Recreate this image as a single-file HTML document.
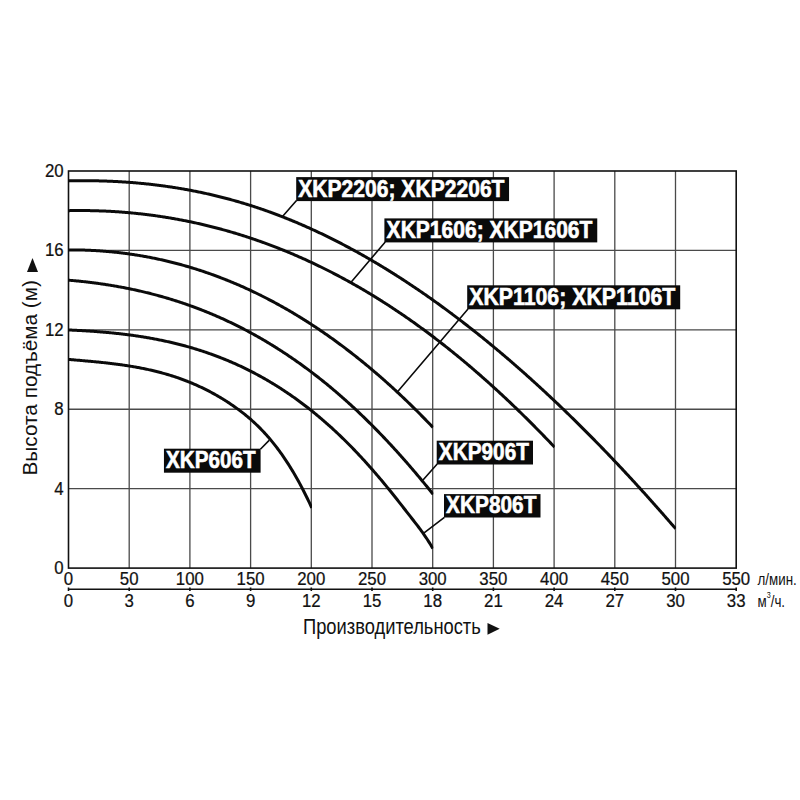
<!DOCTYPE html><html><head><meta charset="utf-8"><style>html,body{margin:0;padding:0;background:#fff}svg{display:block}</style></head><body>
<svg width="800" height="800" viewBox="0 0 800 800" style="font-family:'Liberation Sans', sans-serif">
<rect width="800" height="800" fill="#fff"/>
<path d="M129.20,171.00V568.10 M189.90,171.00V568.10 M250.60,171.00V568.10 M311.30,171.00V568.10 M372.00,171.00V568.10 M432.70,171.00V568.10 M493.40,171.00V568.10 M554.10,171.00V568.10 M614.80,171.00V568.10 M675.50,171.00V568.10 M68.50,488.68H736.20 M68.50,409.26H736.20 M68.50,329.84H736.20 M68.50,250.42H736.20" stroke="#4a4a4a" stroke-width="1.3" fill="none"/>
<rect x="68.5" y="171.0" width="667.70" height="397.10" stroke="#111" stroke-width="1.6" fill="none"/>
<path d="M68.5,589.3H736.20" stroke="#111" stroke-width="1.5"/>
<path d="M68.50,587.50V591.10 M129.20,587.50V591.10 M189.90,587.50V591.10 M250.60,587.50V591.10 M311.30,587.50V591.10 M372.00,587.50V591.10 M432.70,587.50V591.10 M493.40,587.50V591.10 M554.10,587.50V591.10 M614.80,587.50V591.10 M675.50,587.50V591.10 M736.20,587.50V591.10" stroke="#111" stroke-width="1.6"/>
<defs><clipPath id="cA"><rect x="60" y="150" width="616.10" height="420"/></clipPath><clipPath id="cB"><rect x="60" y="150" width="494.70" height="420"/></clipPath><clipPath id="cC"><rect x="60" y="150" width="373.30" height="420"/></clipPath><clipPath id="cD"><rect x="60" y="150" width="373.30" height="420"/></clipPath><clipPath id="cE"><rect x="60" y="150" width="373.30" height="420"/></clipPath><clipPath id="cF"><rect x="60" y="150" width="251.90" height="420"/></clipPath></defs>
<path d="M68.50,180.84 L69.50,180.82 L70.50,180.80 L71.50,180.78 L72.50,180.76 L73.50,180.75 L74.50,180.73 L75.50,180.72 L76.50,180.71 L77.50,180.70 L78.50,180.69 L79.50,180.69 L80.50,180.68 L81.50,180.68 L82.50,180.68 L83.50,180.68 L84.50,180.68 L85.50,180.68 L86.50,180.68 L87.50,180.69 L88.50,180.70 L89.50,180.71 L90.50,180.72 L91.50,180.73 L92.50,180.74 L93.50,180.76 L94.50,180.77 L95.50,180.79 L96.50,180.81 L97.50,180.83 L98.50,180.85 L99.50,180.88 L100.50,180.90 L101.50,180.93 L102.50,180.96 L103.50,180.99 L104.50,181.02 L105.50,181.06 L106.50,181.09 L107.50,181.13 L108.50,181.17 L109.50,181.21 L110.50,181.25 L111.50,181.30 L112.50,181.34 L113.50,181.39 L114.50,181.44 L115.50,181.49 L116.50,181.54 L117.50,181.59 L118.50,181.65 L119.50,181.71 L120.50,181.77 L121.50,181.83 L122.50,181.89 L123.50,181.95 L124.50,182.02 L125.50,182.08 L126.50,182.15 L127.50,182.22 L128.50,182.30 L129.50,182.37 L130.50,182.45 L131.50,182.52 L132.50,182.60 L133.50,182.68 L134.50,182.77 L135.50,182.85 L136.50,182.94 L137.50,183.03 L138.50,183.12 L139.50,183.21 L140.50,183.30 L141.50,183.40 L142.50,183.49 L143.50,183.59 L144.50,183.69 L145.50,183.79 L146.50,183.90 L147.50,184.00 L148.50,184.11 L149.50,184.22 L150.50,184.33 L151.50,184.45 L152.50,184.56 L153.50,184.68 L154.50,184.80 L155.50,184.92 L156.50,185.04 L157.50,185.16 L158.50,185.29 L159.50,185.42 L160.50,185.55 L161.50,185.68 L162.50,185.81 L163.50,185.95 L164.50,186.08 L165.50,186.22 L166.50,186.37 L167.50,186.51 L168.50,186.65 L169.50,186.80 L170.50,186.95 L171.50,187.10 L172.50,187.25 L173.50,187.41 L174.50,187.56 L175.50,187.72 L176.50,187.88 L177.50,188.04 L178.50,188.21 L179.50,188.37 L180.50,188.54 L181.50,188.71 L182.50,188.88 L183.50,189.06 L184.50,189.23 L185.50,189.41 L186.50,189.59 L187.50,189.77 L188.50,189.96 L189.50,190.14 L190.50,190.33 L191.50,190.52 L192.50,190.71 L193.50,190.91 L194.50,191.10 L195.50,191.30 L196.50,191.50 L197.50,191.70 L198.50,191.91 L199.50,192.11 L200.50,192.32 L201.50,192.53 L202.50,192.75 L203.50,192.96 L204.50,193.18 L205.50,193.40 L206.50,193.62 L207.50,193.84 L208.50,194.06 L209.50,194.29 L210.50,194.52 L211.50,194.75 L212.50,194.98 L213.50,195.22 L214.50,195.46 L215.50,195.70 L216.50,195.94 L217.50,196.18 L218.50,196.43 L219.50,196.68 L220.50,196.93 L221.50,197.18 L222.50,197.44 L223.50,197.69 L224.50,197.95 L225.50,198.21 L226.50,198.48 L227.50,198.74 L228.50,199.01 L229.50,199.28 L230.50,199.55 L231.50,199.83 L232.50,200.10 L233.50,200.38 L234.50,200.66 L235.50,200.94 L236.50,201.23 L237.50,201.52 L238.50,201.81 L239.50,202.10 L240.50,202.39 L241.50,202.69 L242.50,202.99 L243.50,203.29 L244.50,203.59 L245.50,203.90 L246.50,204.21 L247.50,204.52 L248.50,204.83 L249.50,205.14 L250.50,205.46 L251.50,205.78 L252.50,206.10 L253.50,206.43 L254.50,206.75 L255.50,207.08 L256.50,207.41 L257.50,207.74 L258.50,208.08 L259.50,208.42 L260.50,208.76 L261.50,209.10 L262.50,209.44 L263.50,209.79 L264.50,210.14 L265.50,210.49 L266.50,210.84 L267.50,211.20 L268.50,211.56 L269.50,211.92 L270.50,212.28 L271.50,212.64 L272.50,213.01 L273.50,213.38 L274.50,213.75 L275.50,214.13 L276.50,214.50 L277.50,214.88 L278.50,215.26 L279.50,215.64 L280.50,216.03 L281.50,216.42 L282.50,216.81 L283.50,217.20 L284.50,217.59 L285.50,217.99 L286.50,218.39 L287.50,218.79 L288.50,219.19 L289.50,219.60 L290.50,220.00 L291.50,220.41 L292.50,220.83 L293.50,221.24 L294.50,221.66 L295.50,222.07 L296.50,222.49 L297.50,222.92 L298.50,223.34 L299.50,223.77 L300.50,224.20 L301.50,224.63 L302.50,225.07 L303.50,225.50 L304.50,225.94 L305.50,226.38 L306.50,226.82 L307.50,227.27 L308.50,227.72 L309.50,228.17 L310.50,228.62 L311.50,229.07 L312.50,229.53 L313.50,229.99 L314.50,230.45 L315.50,230.91 L316.50,231.38 L317.50,231.84 L318.50,232.31 L319.50,232.78 L320.50,233.26 L321.50,233.73 L322.50,234.21 L323.50,234.69 L324.50,235.17 L325.50,235.66 L326.50,236.14 L327.50,236.63 L328.50,237.12 L329.50,237.62 L330.50,238.11 L331.50,238.61 L332.50,239.11 L333.50,239.61 L334.50,240.12 L335.50,240.62 L336.50,241.13 L337.50,241.64 L338.50,242.15 L339.50,242.67 L340.50,243.19 L341.50,243.70 L342.50,244.23 L343.50,244.75 L344.50,245.28 L345.50,245.80 L346.50,246.33 L347.50,246.86 L348.50,247.40 L349.50,247.94 L350.50,248.47 L351.50,249.01 L352.50,249.56 L353.50,250.10 L354.50,250.65 L355.50,251.20 L356.50,251.75 L357.50,252.30 L358.50,252.86 L359.50,253.42 L360.50,253.98 L361.50,254.54 L362.50,255.10 L363.50,255.67 L364.50,256.23 L365.50,256.81 L366.50,257.38 L367.50,257.95 L368.50,258.53 L369.50,259.11 L370.50,259.69 L371.50,260.27 L372.50,260.86 L373.50,261.44 L374.50,262.03 L375.50,262.62 L376.50,263.22 L377.50,263.81 L378.50,264.41 L379.50,265.01 L380.50,265.61 L381.50,266.22 L382.50,266.82 L383.50,267.43 L384.50,268.04 L385.50,268.65 L386.50,269.27 L387.50,269.88 L388.50,270.50 L389.50,271.12 L390.50,271.74 L391.50,272.37 L392.50,273.00 L393.50,273.62 L394.50,274.26 L395.50,274.89 L396.50,275.52 L397.50,276.16 L398.50,276.80 L399.50,277.44 L400.50,278.08 L401.50,278.73 L402.50,279.38 L403.50,280.03 L404.50,280.68 L405.50,281.33 L406.50,281.99 L407.50,282.64 L408.50,283.30 L409.50,283.97 L410.50,284.63 L411.50,285.29 L412.50,285.96 L413.50,286.63 L414.50,287.30 L415.50,287.98 L416.50,288.65 L417.50,289.33 L418.50,290.01 L419.50,290.69 L420.50,291.38 L421.50,292.06 L422.50,292.75 L423.50,293.44 L424.50,294.13 L425.50,294.83 L426.50,295.52 L427.50,296.22 L428.50,296.92 L429.50,297.63 L430.50,298.33 L431.50,299.04 L432.50,299.74 L433.50,300.45 L434.50,301.17 L435.50,301.88 L436.50,302.60 L437.50,303.32 L438.50,304.04 L439.50,304.76 L440.50,305.48 L441.50,306.21 L442.50,306.94 L443.50,307.67 L444.50,308.40 L445.50,309.13 L446.50,309.87 L447.50,310.61 L448.50,311.35 L449.50,312.09 L450.50,312.84 L451.50,313.58 L452.50,314.33 L453.50,315.08 L454.50,315.83 L455.50,316.59 L456.50,317.34 L457.50,318.10 L458.50,318.86 L459.50,319.62 L460.50,320.39 L461.50,321.15 L462.50,321.92 L463.50,322.69 L464.50,323.46 L465.50,324.24 L466.50,325.01 L467.50,325.79 L468.50,326.57 L469.50,327.35 L470.50,328.14 L471.50,328.92 L472.50,329.71 L473.50,330.50 L474.50,331.29 L475.50,332.09 L476.50,332.88 L477.50,333.68 L478.50,334.48 L479.50,335.28 L480.50,336.08 L481.50,336.89 L482.50,337.70 L483.50,338.50 L484.50,339.32 L485.50,340.13 L486.50,340.94 L487.50,341.76 L488.50,342.58 L489.50,343.40 L490.50,344.22 L491.50,345.05 L492.50,345.88 L493.50,346.70 L494.50,347.53 L495.50,348.37 L496.50,349.20 L497.50,350.04 L498.50,350.88 L499.50,351.72 L500.50,352.56 L501.50,353.40 L502.50,354.25 L503.50,355.10 L504.50,355.95 L505.50,356.80 L506.50,357.65 L507.50,358.51 L508.50,359.37 L509.50,360.23 L510.50,361.09 L511.50,361.95 L512.50,362.82 L513.50,363.68 L514.50,364.55 L515.50,365.42 L516.50,366.30 L517.50,367.17 L518.50,368.05 L519.50,368.93 L520.50,369.81 L521.50,370.69 L522.50,371.57 L523.50,372.46 L524.50,373.35 L525.50,374.24 L526.50,375.13 L527.50,376.02 L528.50,376.92 L529.50,377.82 L530.50,378.72 L531.50,379.62 L532.50,380.52 L533.50,381.43 L534.50,382.33 L535.50,383.24 L536.50,384.15 L537.50,385.06 L538.50,385.98 L539.50,386.90 L540.50,387.81 L541.50,388.73 L542.50,389.66 L543.50,390.58 L544.50,391.51 L545.50,392.43 L546.50,393.36 L547.50,394.30 L548.50,395.23 L549.50,396.16 L550.50,397.10 L551.50,398.04 L552.50,398.98 L553.50,399.92 L554.50,400.87 L555.50,401.81 L556.50,402.76 L557.50,403.71 L558.50,404.67 L559.50,405.62 L560.50,406.57 L561.50,407.53 L562.50,408.49 L563.50,409.45 L564.50,410.42 L565.50,411.38 L566.50,412.35 L567.50,413.32 L568.50,414.29 L569.50,415.26 L570.50,416.23 L571.50,417.21 L572.50,418.19 L573.50,419.17 L574.50,420.15 L575.50,421.13 L576.50,422.12 L577.50,423.10 L578.50,424.09 L579.50,425.08 L580.50,426.08 L581.50,427.07 L582.50,428.07 L583.50,429.07 L584.50,430.07 L585.50,431.07 L586.50,432.07 L587.50,433.08 L588.50,434.08 L589.50,435.09 L590.50,436.10 L591.50,437.12 L592.50,438.13 L593.50,439.15 L594.50,440.16 L595.50,441.18 L596.50,442.21 L597.50,443.23 L598.50,444.26 L599.50,445.28 L600.50,446.31 L601.50,447.34 L602.50,448.38 L603.50,449.41 L604.50,450.45 L605.50,451.48 L606.50,452.52 L607.50,453.57 L608.50,454.61 L609.50,455.65 L610.50,456.70 L611.50,457.75 L612.50,458.80 L613.50,459.85 L614.50,460.91 L615.50,461.96 L616.50,463.02 L617.50,464.08 L618.50,465.14 L619.50,466.20 L620.50,467.27 L621.50,468.34 L622.50,469.40 L623.50,470.47 L624.50,471.55 L625.50,472.62 L626.50,473.70 L627.50,474.77 L628.50,475.85 L629.50,476.93 L630.50,478.02 L631.50,479.10 L632.50,480.19 L633.50,481.27 L634.50,482.36 L635.50,483.46 L636.50,484.55 L637.50,485.64 L638.50,486.74 L639.50,487.84 L640.50,488.94 L641.50,490.04 L642.50,491.15 L643.50,492.25 L644.50,493.36 L645.50,494.47 L646.50,495.58 L647.50,496.69 L648.50,497.81 L649.50,498.92 L650.50,500.04 L651.50,501.16 L652.50,502.28 L653.50,503.40 L654.50,504.53 L655.50,505.65 L656.50,506.78 L657.50,507.91 L658.50,509.04 L659.50,510.18 L660.50,511.31 L661.50,512.45 L662.50,513.59 L663.50,514.73 L664.50,515.87 L665.50,517.02 L666.50,518.16 L667.50,519.31 L668.50,520.46 L669.50,521.61 L670.50,522.76 L671.50,523.92 L672.50,525.07 L673.50,526.23 L674.50,527.39 L675.50,528.55 L675.60,528.67" stroke="#0a0a0a" stroke-width="3.0" fill="none" stroke-linecap="butt" clip-path="url(#cA)"/>
<path d="M68.50,210.65 L69.50,210.64 L70.50,210.62 L71.50,210.60 L72.50,210.59 L73.50,210.57 L74.50,210.56 L75.50,210.56 L76.50,210.55 L77.50,210.54 L78.50,210.54 L79.50,210.54 L80.50,210.54 L81.50,210.54 L82.50,210.54 L83.50,210.55 L84.50,210.55 L85.50,210.56 L86.50,210.57 L87.50,210.59 L88.50,210.60 L89.50,210.62 L90.50,210.63 L91.50,210.65 L92.50,210.68 L93.50,210.70 L94.50,210.72 L95.50,210.75 L96.50,210.78 L97.50,210.81 L98.50,210.84 L99.50,210.88 L100.50,210.91 L101.50,210.95 L102.50,210.99 L103.50,211.03 L104.50,211.07 L105.50,211.12 L106.50,211.16 L107.50,211.21 L108.50,211.26 L109.50,211.32 L110.50,211.37 L111.50,211.43 L112.50,211.48 L113.50,211.54 L114.50,211.60 L115.50,211.67 L116.50,211.73 L117.50,211.80 L118.50,211.87 L119.50,211.94 L120.50,212.01 L121.50,212.09 L122.50,212.16 L123.50,212.24 L124.50,212.32 L125.50,212.40 L126.50,212.49 L127.50,212.57 L128.50,212.66 L129.50,212.75 L130.50,212.84 L131.50,212.93 L132.50,213.03 L133.50,213.13 L134.50,213.23 L135.50,213.33 L136.50,213.43 L137.50,213.53 L138.50,213.64 L139.50,213.75 L140.50,213.86 L141.50,213.97 L142.50,214.08 L143.50,214.20 L144.50,214.32 L145.50,214.44 L146.50,214.56 L147.50,214.68 L148.50,214.81 L149.50,214.94 L150.50,215.06 L151.50,215.20 L152.50,215.33 L153.50,215.46 L154.50,215.60 L155.50,215.74 L156.50,215.88 L157.50,216.02 L158.50,216.17 L159.50,216.32 L160.50,216.46 L161.50,216.62 L162.50,216.77 L163.50,216.92 L164.50,217.08 L165.50,217.24 L166.50,217.40 L167.50,217.56 L168.50,217.72 L169.50,217.89 L170.50,218.06 L171.50,218.23 L172.50,218.40 L173.50,218.57 L174.50,218.75 L175.50,218.93 L176.50,219.11 L177.50,219.29 L178.50,219.48 L179.50,219.66 L180.50,219.85 L181.50,220.04 L182.50,220.23 L183.50,220.43 L184.50,220.62 L185.50,220.82 L186.50,221.02 L187.50,221.22 L188.50,221.42 L189.50,221.63 L190.50,221.84 L191.50,222.05 L192.50,222.26 L193.50,222.47 L194.50,222.69 L195.50,222.91 L196.50,223.13 L197.50,223.35 L198.50,223.57 L199.50,223.80 L200.50,224.03 L201.50,224.26 L202.50,224.49 L203.50,224.73 L204.50,224.96 L205.50,225.20 L206.50,225.44 L207.50,225.68 L208.50,225.93 L209.50,226.17 L210.50,226.42 L211.50,226.67 L212.50,226.93 L213.50,227.18 L214.50,227.44 L215.50,227.70 L216.50,227.96 L217.50,228.22 L218.50,228.49 L219.50,228.75 L220.50,229.02 L221.50,229.29 L222.50,229.57 L223.50,229.84 L224.50,230.12 L225.50,230.40 L226.50,230.68 L227.50,230.96 L228.50,231.25 L229.50,231.54 L230.50,231.83 L231.50,232.12 L232.50,232.41 L233.50,232.71 L234.50,233.01 L235.50,233.31 L236.50,233.61 L237.50,233.92 L238.50,234.22 L239.50,234.53 L240.50,234.84 L241.50,235.16 L242.50,235.47 L243.50,235.79 L244.50,236.11 L245.50,236.43 L246.50,236.75 L247.50,237.08 L248.50,237.41 L249.50,237.74 L250.50,238.07 L251.50,238.40 L252.50,238.74 L253.50,239.08 L254.50,239.42 L255.50,239.76 L256.50,240.11 L257.50,240.46 L258.50,240.81 L259.50,241.16 L260.50,241.51 L261.50,241.87 L262.50,242.23 L263.50,242.59 L264.50,242.95 L265.50,243.31 L266.50,243.68 L267.50,244.05 L268.50,244.42 L269.50,244.79 L270.50,245.17 L271.50,245.55 L272.50,245.93 L273.50,246.31 L274.50,246.69 L275.50,247.08 L276.50,247.47 L277.50,247.86 L278.50,248.25 L279.50,248.65 L280.50,249.04 L281.50,249.44 L282.50,249.84 L283.50,250.25 L284.50,250.65 L285.50,251.06 L286.50,251.47 L287.50,251.89 L288.50,252.30 L289.50,252.72 L290.50,253.14 L291.50,253.56 L292.50,253.98 L293.50,254.41 L294.50,254.84 L295.50,255.27 L296.50,255.70 L297.50,256.14 L298.50,256.57 L299.50,257.01 L300.50,257.46 L301.50,257.90 L302.50,258.35 L303.50,258.79 L304.50,259.24 L305.50,259.70 L306.50,260.15 L307.50,260.61 L308.50,261.07 L309.50,261.53 L310.50,262.00 L311.50,262.46 L312.50,262.93 L313.50,263.40 L314.50,263.88 L315.50,264.35 L316.50,264.83 L317.50,265.31 L318.50,265.79 L319.50,266.28 L320.50,266.76 L321.50,267.25 L322.50,267.75 L323.50,268.24 L324.50,268.74 L325.50,269.23 L326.50,269.74 L327.50,270.24 L328.50,270.74 L329.50,271.25 L330.50,271.76 L331.50,272.27 L332.50,272.79 L333.50,273.31 L334.50,273.82 L335.50,274.35 L336.50,274.87 L337.50,275.40 L338.50,275.92 L339.50,276.46 L340.50,276.99 L341.50,277.52 L342.50,278.06 L343.50,278.60 L344.50,279.14 L345.50,279.69 L346.50,280.24 L347.50,280.79 L348.50,281.34 L349.50,281.89 L350.50,282.45 L351.50,283.01 L352.50,283.57 L353.50,284.13 L354.50,284.70 L355.50,285.27 L356.50,285.84 L357.50,286.41 L358.50,286.99 L359.50,287.56 L360.50,288.14 L361.50,288.73 L362.50,289.31 L363.50,289.90 L364.50,290.49 L365.50,291.08 L366.50,291.68 L367.50,292.27 L368.50,292.87 L369.50,293.47 L370.50,294.08 L371.50,294.68 L372.50,295.29 L373.50,295.90 L374.50,296.52 L375.50,297.13 L376.50,297.75 L377.50,298.37 L378.50,299.00 L379.50,299.62 L380.50,300.25 L381.50,300.88 L382.50,301.51 L383.50,302.15 L384.50,302.79 L385.50,303.43 L386.50,304.07 L387.50,304.71 L388.50,305.36 L389.50,306.01 L390.50,306.66 L391.50,307.32 L392.50,307.97 L393.50,308.63 L394.50,309.30 L395.50,309.96 L396.50,310.63 L397.50,311.30 L398.50,311.97 L399.50,312.64 L400.50,313.32 L401.50,314.00 L402.50,314.68 L403.50,315.36 L404.50,316.05 L405.50,316.74 L406.50,317.43 L407.50,318.12 L408.50,318.82 L409.50,319.52 L410.50,320.22 L411.50,320.93 L412.50,321.63 L413.50,322.34 L414.50,323.05 L415.50,323.77 L416.50,324.48 L417.50,325.20 L418.50,325.92 L419.50,326.65 L420.50,327.37 L421.50,328.10 L422.50,328.83 L423.50,329.57 L424.50,330.30 L425.50,331.04 L426.50,331.78 L427.50,332.53 L428.50,333.27 L429.50,334.02 L430.50,334.77 L431.50,335.53 L432.50,336.28 L433.50,337.04 L434.50,337.80 L435.50,338.57 L436.50,339.33 L437.50,340.10 L438.50,340.87 L439.50,341.64 L440.50,342.42 L441.50,343.20 L442.50,343.98 L443.50,344.76 L444.50,345.55 L445.50,346.34 L446.50,347.13 L447.50,347.92 L448.50,348.72 L449.50,349.52 L450.50,350.32 L451.50,351.12 L452.50,351.93 L453.50,352.74 L454.50,353.55 L455.50,354.36 L456.50,355.18 L457.50,356.00 L458.50,356.82 L459.50,357.64 L460.50,358.47 L461.50,359.29 L462.50,360.12 L463.50,360.96 L464.50,361.79 L465.50,362.63 L466.50,363.47 L467.50,364.32 L468.50,365.16 L469.50,366.01 L470.50,366.86 L471.50,367.71 L472.50,368.57 L473.50,369.43 L474.50,370.29 L475.50,371.15 L476.50,372.02 L477.50,372.88 L478.50,373.75 L479.50,374.63 L480.50,375.50 L481.50,376.38 L482.50,377.26 L483.50,378.14 L484.50,379.03 L485.50,379.92 L486.50,380.81 L487.50,381.70 L488.50,382.59 L489.50,383.49 L490.50,384.39 L491.50,385.29 L492.50,386.20 L493.50,387.11 L494.50,388.02 L495.50,388.93 L496.50,389.84 L497.50,390.76 L498.50,391.68 L499.50,392.60 L500.50,393.53 L501.50,394.45 L502.50,395.38 L503.50,396.31 L504.50,397.25 L505.50,398.19 L506.50,399.13 L507.50,400.07 L508.50,401.01 L509.50,401.96 L510.50,402.91 L511.50,403.86 L512.50,404.81 L513.50,405.77 L514.50,406.73 L515.50,407.69 L516.50,408.65 L517.50,409.62 L518.50,410.59 L519.50,411.56 L520.50,412.53 L521.50,413.51 L522.50,414.49 L523.50,415.47 L524.50,416.45 L525.50,417.44 L526.50,418.43 L527.50,419.42 L528.50,420.41 L529.50,421.41 L530.50,422.41 L531.50,423.41 L532.50,424.41 L533.50,425.42 L534.50,426.42 L535.50,427.44 L536.50,428.45 L537.50,429.46 L538.50,430.48 L539.50,431.50 L540.50,432.52 L541.50,433.55 L542.50,434.58 L543.50,435.61 L544.50,436.64 L545.50,437.67 L546.50,438.71 L547.50,439.75 L548.50,440.79 L549.50,441.84 L550.50,442.89 L551.50,443.94 L552.50,444.99 L553.50,446.04 L554.50,447.10" stroke="#0a0a0a" stroke-width="3.0" fill="none" stroke-linecap="butt" clip-path="url(#cB)"/>
<path d="M68.50,249.91 L69.50,249.91 L70.50,249.91 L71.50,249.91 L72.50,249.91 L73.50,249.91 L74.50,249.92 L75.50,249.93 L76.50,249.94 L77.50,249.96 L78.50,249.97 L79.50,249.99 L80.50,250.02 L81.50,250.04 L82.50,250.07 L83.50,250.09 L84.50,250.12 L85.50,250.16 L86.50,250.19 L87.50,250.23 L88.50,250.27 L89.50,250.31 L90.50,250.36 L91.50,250.41 L92.50,250.46 L93.50,250.51 L94.50,250.56 L95.50,250.62 L96.50,250.68 L97.50,250.74 L98.50,250.81 L99.50,250.87 L100.50,250.94 L101.50,251.01 L102.50,251.09 L103.50,251.16 L104.50,251.24 L105.50,251.32 L106.50,251.41 L107.50,251.49 L108.50,251.58 L109.50,251.67 L110.50,251.76 L111.50,251.86 L112.50,251.96 L113.50,252.06 L114.50,252.16 L115.50,252.27 L116.50,252.37 L117.50,252.49 L118.50,252.60 L119.50,252.71 L120.50,252.83 L121.50,252.95 L122.50,253.07 L123.50,253.20 L124.50,253.33 L125.50,253.46 L126.50,253.59 L127.50,253.72 L128.50,253.86 L129.50,254.00 L130.50,254.14 L131.50,254.29 L132.50,254.44 L133.50,254.59 L134.50,254.74 L135.50,254.90 L136.50,255.05 L137.50,255.21 L138.50,255.38 L139.50,255.54 L140.50,255.71 L141.50,255.88 L142.50,256.05 L143.50,256.23 L144.50,256.41 L145.50,256.59 L146.50,256.77 L147.50,256.96 L148.50,257.14 L149.50,257.33 L150.50,257.53 L151.50,257.72 L152.50,257.92 L153.50,258.12 L154.50,258.33 L155.50,258.53 L156.50,258.74 L157.50,258.95 L158.50,259.17 L159.50,259.38 L160.50,259.60 L161.50,259.83 L162.50,260.05 L163.50,260.28 L164.50,260.51 L165.50,260.74 L166.50,260.97 L167.50,261.21 L168.50,261.45 L169.50,261.69 L170.50,261.94 L171.50,262.19 L172.50,262.44 L173.50,262.69 L174.50,262.95 L175.50,263.21 L176.50,263.47 L177.50,263.73 L178.50,264.00 L179.50,264.27 L180.50,264.54 L181.50,264.81 L182.50,265.09 L183.50,265.37 L184.50,265.65 L185.50,265.94 L186.50,266.23 L187.50,266.52 L188.50,266.81 L189.50,267.11 L190.50,267.41 L191.50,267.71 L192.50,268.01 L193.50,268.32 L194.50,268.63 L195.50,268.94 L196.50,269.26 L197.50,269.57 L198.50,269.89 L199.50,270.22 L200.50,270.54 L201.50,270.87 L202.50,271.20 L203.50,271.54 L204.50,271.87 L205.50,272.21 L206.50,272.56 L207.50,272.90 L208.50,273.25 L209.50,273.60 L210.50,273.95 L211.50,274.31 L212.50,274.67 L213.50,275.03 L214.50,275.40 L215.50,275.76 L216.50,276.13 L217.50,276.51 L218.50,276.88 L219.50,277.26 L220.50,277.64 L221.50,278.03 L222.50,278.41 L223.50,278.80 L224.50,279.19 L225.50,279.59 L226.50,279.99 L227.50,280.39 L228.50,280.79 L229.50,281.20 L230.50,281.61 L231.50,282.02 L232.50,282.44 L233.50,282.85 L234.50,283.27 L235.50,283.70 L236.50,284.12 L237.50,284.55 L238.50,284.99 L239.50,285.42 L240.50,285.86 L241.50,286.30 L242.50,286.74 L243.50,287.19 L244.50,287.64 L245.50,288.09 L246.50,288.55 L247.50,289.01 L248.50,289.47 L249.50,289.93 L250.50,290.40 L251.50,290.87 L252.50,291.34 L253.50,291.81 L254.50,292.29 L255.50,292.77 L256.50,293.26 L257.50,293.75 L258.50,294.24 L259.50,294.73 L260.50,295.22 L261.50,295.72 L262.50,296.22 L263.50,296.73 L264.50,297.24 L265.50,297.75 L266.50,298.26 L267.50,298.78 L268.50,299.30 L269.50,299.82 L270.50,300.34 L271.50,300.87 L272.50,301.40 L273.50,301.94 L274.50,302.48 L275.50,303.02 L276.50,303.56 L277.50,304.11 L278.50,304.65 L279.50,305.21 L280.50,305.76 L281.50,306.32 L282.50,306.88 L283.50,307.45 L284.50,308.01 L285.50,308.58 L286.50,309.16 L287.50,309.73 L288.50,310.31 L289.50,310.89 L290.50,311.48 L291.50,312.07 L292.50,312.66 L293.50,313.25 L294.50,313.85 L295.50,314.45 L296.50,315.05 L297.50,315.66 L298.50,316.27 L299.50,316.88 L300.50,317.50 L301.50,318.12 L302.50,318.74 L303.50,319.36 L304.50,319.99 L305.50,320.62 L306.50,321.26 L307.50,321.89 L308.50,322.53 L309.50,323.18 L310.50,323.82 L311.50,324.47 L312.50,325.13 L313.50,325.78 L314.50,326.44 L315.50,327.10 L316.50,327.77 L317.50,328.44 L318.50,329.11 L319.50,329.78 L320.50,330.46 L321.50,331.14 L322.50,331.82 L323.50,332.51 L324.50,333.20 L325.50,333.90 L326.50,334.59 L327.50,335.29 L328.50,335.99 L329.50,336.70 L330.50,337.41 L331.50,338.12 L332.50,338.84 L333.50,339.55 L334.50,340.28 L335.50,341.00 L336.50,341.73 L337.50,342.46 L338.50,343.19 L339.50,343.93 L340.50,344.67 L341.50,345.42 L342.50,346.16 L343.50,346.91 L344.50,347.67 L345.50,348.43 L346.50,349.19 L347.50,349.95 L348.50,350.71 L349.50,351.48 L350.50,352.26 L351.50,353.03 L352.50,353.81 L353.50,354.60 L354.50,355.38 L355.50,356.17 L356.50,356.96 L357.50,357.76 L358.50,358.56 L359.50,359.36 L360.50,360.16 L361.50,360.97 L362.50,361.78 L363.50,362.60 L364.50,363.42 L365.50,364.24 L366.50,365.06 L367.50,365.89 L368.50,366.72 L369.50,367.56 L370.50,368.40 L371.50,369.24 L372.50,370.08 L373.50,370.93 L374.50,371.78 L375.50,372.64 L376.50,373.49 L377.50,374.35 L378.50,375.22 L379.50,376.09 L380.50,376.96 L381.50,377.83 L382.50,378.71 L383.50,379.59 L384.50,380.48 L385.50,381.36 L386.50,382.25 L387.50,383.15 L388.50,384.05 L389.50,384.95 L390.50,385.85 L391.50,386.76 L392.50,387.67 L393.50,388.59 L394.50,389.50 L395.50,390.43 L396.50,391.35 L397.50,392.28 L398.50,393.21 L399.50,394.14 L400.50,395.08 L401.50,396.02 L402.50,396.97 L403.50,397.92 L404.50,398.87 L405.50,399.82 L406.50,400.78 L407.50,401.75 L408.50,402.71 L409.50,403.68 L410.50,404.65 L411.50,405.63 L412.50,406.61 L413.50,407.59 L414.50,408.58 L415.50,409.56 L416.50,410.56 L417.50,411.55 L418.50,412.55 L419.50,413.56 L420.50,414.56 L421.50,415.57 L422.50,416.59 L423.50,417.60 L424.50,418.62 L425.50,419.65 L426.50,420.68 L427.50,421.71 L428.50,422.74 L429.50,423.78 L430.50,424.82 L431.50,425.87 L432.50,426.91 L433.00,427.44" stroke="#0a0a0a" stroke-width="3.0" fill="none" stroke-linecap="butt" clip-path="url(#cC)"/>
<path d="M68.50,280.20 L69.50,280.28 L70.50,280.37 L71.50,280.45 L72.50,280.54 L73.50,280.63 L74.50,280.72 L75.50,280.82 L76.50,280.91 L77.50,281.01 L78.50,281.11 L79.50,281.21 L80.50,281.31 L81.50,281.42 L82.50,281.52 L83.50,281.63 L84.50,281.74 L85.50,281.86 L86.50,281.97 L87.50,282.09 L88.50,282.20 L89.50,282.32 L90.50,282.44 L91.50,282.57 L92.50,282.69 L93.50,282.82 L94.50,282.95 L95.50,283.08 L96.50,283.21 L97.50,283.35 L98.50,283.49 L99.50,283.63 L100.50,283.77 L101.50,283.91 L102.50,284.06 L103.50,284.20 L104.50,284.35 L105.50,284.50 L106.50,284.66 L107.50,284.81 L108.50,284.97 L109.50,285.13 L110.50,285.29 L111.50,285.46 L112.50,285.62 L113.50,285.79 L114.50,285.96 L115.50,286.13 L116.50,286.31 L117.50,286.49 L118.50,286.66 L119.50,286.85 L120.50,287.03 L121.50,287.21 L122.50,287.40 L123.50,287.59 L124.50,287.78 L125.50,287.98 L126.50,288.17 L127.50,288.37 L128.50,288.57 L129.50,288.78 L130.50,288.98 L131.50,289.19 L132.50,289.40 L133.50,289.61 L134.50,289.83 L135.50,290.04 L136.50,290.26 L137.50,290.48 L138.50,290.71 L139.50,290.94 L140.50,291.16 L141.50,291.39 L142.50,291.63 L143.50,291.86 L144.50,292.10 L145.50,292.34 L146.50,292.59 L147.50,292.83 L148.50,293.08 L149.50,293.33 L150.50,293.58 L151.50,293.84 L152.50,294.09 L153.50,294.35 L154.50,294.62 L155.50,294.88 L156.50,295.15 L157.50,295.42 L158.50,295.69 L159.50,295.97 L160.50,296.24 L161.50,296.52 L162.50,296.81 L163.50,297.09 L164.50,297.38 L165.50,297.67 L166.50,297.96 L167.50,298.26 L168.50,298.56 L169.50,298.86 L170.50,299.16 L171.50,299.47 L172.50,299.77 L173.50,300.08 L174.50,300.40 L175.50,300.71 L176.50,301.03 L177.50,301.36 L178.50,301.68 L179.50,302.01 L180.50,302.34 L181.50,302.67 L182.50,303.01 L183.50,303.34 L184.50,303.68 L185.50,304.03 L186.50,304.37 L187.50,304.72 L188.50,305.07 L189.50,305.43 L190.50,305.79 L191.50,306.15 L192.50,306.51 L193.50,306.87 L194.50,307.24 L195.50,307.61 L196.50,307.99 L197.50,308.37 L198.50,308.75 L199.50,309.13 L200.50,309.51 L201.50,309.90 L202.50,310.29 L203.50,310.69 L204.50,311.09 L205.50,311.49 L206.50,311.89 L207.50,312.30 L208.50,312.70 L209.50,313.12 L210.50,313.53 L211.50,313.95 L212.50,314.37 L213.50,314.79 L214.50,315.22 L215.50,315.65 L216.50,316.08 L217.50,316.52 L218.50,316.96 L219.50,317.40 L220.50,317.84 L221.50,318.29 L222.50,318.74 L223.50,319.20 L224.50,319.66 L225.50,320.12 L226.50,320.58 L227.50,321.05 L228.50,321.52 L229.50,321.99 L230.50,322.46 L231.50,322.94 L232.50,323.43 L233.50,323.91 L234.50,324.40 L235.50,324.89 L236.50,325.39 L237.50,325.88 L238.50,326.39 L239.50,326.89 L240.50,327.40 L241.50,327.91 L242.50,328.42 L243.50,328.94 L244.50,329.46 L245.50,329.98 L246.50,330.51 L247.50,331.04 L248.50,331.58 L249.50,332.11 L250.50,332.65 L251.50,333.20 L252.50,333.74 L253.50,334.30 L254.50,334.85 L255.50,335.41 L256.50,335.97 L257.50,336.53 L258.50,337.10 L259.50,337.67 L260.50,338.24 L261.50,338.82 L262.50,339.40 L263.50,339.98 L264.50,340.57 L265.50,341.16 L266.50,341.76 L267.50,342.35 L268.50,342.96 L269.50,343.56 L270.50,344.17 L271.50,344.78 L272.50,345.39 L273.50,346.01 L274.50,346.63 L275.50,347.26 L276.50,347.89 L277.50,348.52 L278.50,349.16 L279.50,349.80 L280.50,350.44 L281.50,351.09 L282.50,351.73 L283.50,352.39 L284.50,353.05 L285.50,353.71 L286.50,354.37 L287.50,355.04 L288.50,355.71 L289.50,356.38 L290.50,357.06 L291.50,357.74 L292.50,358.43 L293.50,359.12 L294.50,359.81 L295.50,360.51 L296.50,361.21 L297.50,361.91 L298.50,362.62 L299.50,363.33 L300.50,364.04 L301.50,364.76 L302.50,365.48 L303.50,366.21 L304.50,366.94 L305.50,367.67 L306.50,368.41 L307.50,369.15 L308.50,369.89 L309.50,370.64 L310.50,371.39 L311.50,372.15 L312.50,372.91 L313.50,373.67 L314.50,374.44 L315.50,375.21 L316.50,375.99 L317.50,376.77 L318.50,377.55 L319.50,378.33 L320.50,379.13 L321.50,379.92 L322.50,380.72 L323.50,381.52 L324.50,382.33 L325.50,383.14 L326.50,383.95 L327.50,384.77 L328.50,385.59 L329.50,386.42 L330.50,387.25 L331.50,388.08 L332.50,388.92 L333.50,389.77 L334.50,390.61 L335.50,391.46 L336.50,392.32 L337.50,393.18 L338.50,394.04 L339.50,394.91 L340.50,395.78 L341.50,396.65 L342.50,397.53 L343.50,398.41 L344.50,399.30 L345.50,400.19 L346.50,401.09 L347.50,401.99 L348.50,402.89 L349.50,403.80 L350.50,404.71 L351.50,405.63 L352.50,406.55 L353.50,407.47 L354.50,408.40 L355.50,409.33 L356.50,410.27 L357.50,411.21 L358.50,412.15 L359.50,413.10 L360.50,414.05 L361.50,415.01 L362.50,415.97 L363.50,416.93 L364.50,417.90 L365.50,418.87 L366.50,419.85 L367.50,420.83 L368.50,421.82 L369.50,422.81 L370.50,423.80 L371.50,424.80 L372.50,425.80 L373.50,426.81 L374.50,427.82 L375.50,428.83 L376.50,429.85 L377.50,430.87 L378.50,431.90 L379.50,432.93 L380.50,433.97 L381.50,435.01 L382.50,436.05 L383.50,437.10 L384.50,438.15 L385.50,439.20 L386.50,440.26 L387.50,441.33 L388.50,442.40 L389.50,443.47 L390.50,444.55 L391.50,445.63 L392.50,446.71 L393.50,447.80 L394.50,448.89 L395.50,449.99 L396.50,451.09 L397.50,452.20 L398.50,453.31 L399.50,454.42 L400.50,455.54 L401.50,456.66 L402.50,457.79 L403.50,458.92 L404.50,460.06 L405.50,461.19 L406.50,462.34 L407.50,463.48 L408.50,464.64 L409.50,465.79 L410.50,466.95 L411.50,468.11 L412.50,469.28 L413.50,470.45 L414.50,471.63 L415.50,472.81 L416.50,473.99 L417.50,475.18 L418.50,476.37 L419.50,477.57 L420.50,478.77 L421.50,479.97 L422.50,481.18 L423.50,482.39 L424.50,483.61 L425.50,484.83 L426.50,486.06 L427.50,487.29 L428.50,488.52 L429.50,489.76 L430.50,491.00 L431.50,492.24 L432.50,493.49 L433.20,494.37" stroke="#0a0a0a" stroke-width="3.0" fill="none" stroke-linecap="butt" clip-path="url(#cD)"/>
<path d="M68.50,329.98 L69.50,330.02 L70.50,330.07 L71.50,330.11 L72.50,330.15 L73.50,330.20 L74.50,330.25 L75.50,330.30 L76.50,330.34 L77.50,330.40 L78.50,330.45 L79.50,330.50 L80.50,330.55 L81.50,330.61 L82.50,330.66 L83.50,330.72 L84.50,330.78 L85.50,330.84 L86.50,330.90 L87.50,330.96 L88.50,331.02 L89.50,331.09 L90.50,331.15 L91.50,331.22 L92.50,331.29 L93.50,331.36 L94.50,331.43 L95.50,331.50 L96.50,331.58 L97.50,331.65 L98.50,331.73 L99.50,331.81 L100.50,331.89 L101.50,331.97 L102.50,332.06 L103.50,332.14 L104.50,332.23 L105.50,332.31 L106.50,332.40 L107.50,332.49 L108.50,332.59 L109.50,332.68 L110.50,332.78 L111.50,332.88 L112.50,332.98 L113.50,333.08 L114.50,333.18 L115.50,333.28 L116.50,333.39 L117.50,333.50 L118.50,333.61 L119.50,333.72 L120.50,333.83 L121.50,333.95 L122.50,334.07 L123.50,334.19 L124.50,334.31 L125.50,334.43 L126.50,334.56 L127.50,334.68 L128.50,334.81 L129.50,334.94 L130.50,335.08 L131.50,335.21 L132.50,335.35 L133.50,335.49 L134.50,335.63 L135.50,335.78 L136.50,335.92 L137.50,336.07 L138.50,336.22 L139.50,336.37 L140.50,336.53 L141.50,336.68 L142.50,336.84 L143.50,337.00 L144.50,337.17 L145.50,337.33 L146.50,337.50 L147.50,337.67 L148.50,337.85 L149.50,338.02 L150.50,338.20 L151.50,338.38 L152.50,338.56 L153.50,338.75 L154.50,338.93 L155.50,339.12 L156.50,339.32 L157.50,339.51 L158.50,339.71 L159.50,339.91 L160.50,340.11 L161.50,340.32 L162.50,340.52 L163.50,340.73 L164.50,340.95 L165.50,341.16 L166.50,341.38 L167.50,341.60 L168.50,341.83 L169.50,342.05 L170.50,342.28 L171.50,342.51 L172.50,342.75 L173.50,342.99 L174.50,343.23 L175.50,343.47 L176.50,343.72 L177.50,343.97 L178.50,344.22 L179.50,344.47 L180.50,344.73 L181.50,344.99 L182.50,345.25 L183.50,345.52 L184.50,345.79 L185.50,346.06 L186.50,346.34 L187.50,346.62 L188.50,346.90 L189.50,347.18 L190.50,347.47 L191.50,347.76 L192.50,348.06 L193.50,348.35 L194.50,348.66 L195.50,348.96 L196.50,349.27 L197.50,349.58 L198.50,349.89 L199.50,350.21 L200.50,350.53 L201.50,350.85 L202.50,351.18 L203.50,351.51 L204.50,351.84 L205.50,352.18 L206.50,352.52 L207.50,352.86 L208.50,353.21 L209.50,353.56 L210.50,353.91 L211.50,354.27 L212.50,354.63 L213.50,354.99 L214.50,355.36 L215.50,355.73 L216.50,356.11 L217.50,356.49 L218.50,356.87 L219.50,357.26 L220.50,357.65 L221.50,358.04 L222.50,358.44 L223.50,358.84 L224.50,359.24 L225.50,359.65 L226.50,360.06 L227.50,360.48 L228.50,360.90 L229.50,361.32 L230.50,361.75 L231.50,362.18 L232.50,362.61 L233.50,363.05 L234.50,363.49 L235.50,363.94 L236.50,364.39 L237.50,364.84 L238.50,365.30 L239.50,365.76 L240.50,366.23 L241.50,366.70 L242.50,367.17 L243.50,367.65 L244.50,368.13 L245.50,368.62 L246.50,369.11 L247.50,369.61 L248.50,370.11 L249.50,370.61 L250.50,371.12 L251.50,371.63 L252.50,372.14 L253.50,372.66 L254.50,373.19 L255.50,373.71 L256.50,374.25 L257.50,374.78 L258.50,375.33 L259.50,375.87 L260.50,376.42 L261.50,376.98 L262.50,377.53 L263.50,378.10 L264.50,378.67 L265.50,379.24 L266.50,379.81 L267.50,380.40 L268.50,380.98 L269.50,381.57 L270.50,382.17 L271.50,382.76 L272.50,383.37 L273.50,383.98 L274.50,384.59 L275.50,385.21 L276.50,385.83 L277.50,386.46 L278.50,387.09 L279.50,387.72 L280.50,388.36 L281.50,389.01 L282.50,389.66 L283.50,390.32 L284.50,390.98 L285.50,391.64 L286.50,392.31 L287.50,392.99 L288.50,393.66 L289.50,394.35 L290.50,395.04 L291.50,395.73 L292.50,396.43 L293.50,397.13 L294.50,397.84 L295.50,398.56 L296.50,399.28 L297.50,400.00 L298.50,400.73 L299.50,401.46 L300.50,402.20 L301.50,402.95 L302.50,403.70 L303.50,404.45 L304.50,405.21 L305.50,405.97 L306.50,406.74 L307.50,407.52 L308.50,408.30 L309.50,409.09 L310.50,409.88 L311.50,410.67 L312.50,411.47 L313.50,412.28 L314.50,413.09 L315.50,413.91 L316.50,414.73 L317.50,415.56 L318.50,416.39 L319.50,417.23 L320.50,418.08 L321.50,418.93 L322.50,419.78 L323.50,420.64 L324.50,421.51 L325.50,422.38 L326.50,423.26 L327.50,424.14 L328.50,425.03 L329.50,425.93 L330.50,426.82 L331.50,427.73 L332.50,428.64 L333.50,429.56 L334.50,430.48 L335.50,431.41 L336.50,432.34 L337.50,433.28 L338.50,434.23 L339.50,435.18 L340.50,436.13 L341.50,437.10 L342.50,438.07 L343.50,439.04 L344.50,440.02 L345.50,441.01 L346.50,442.00 L347.50,443.00 L348.50,444.00 L349.50,445.01 L350.50,446.03 L351.50,447.05 L352.50,448.08 L353.50,449.11 L354.50,450.15 L355.50,451.19 L356.50,452.24 L357.50,453.30 L358.50,454.36 L359.50,455.43 L360.50,456.51 L361.50,457.59 L362.50,458.67 L363.50,459.76 L364.50,460.86 L365.50,461.96 L366.50,463.07 L367.50,464.19 L368.50,465.30 L369.50,466.43 L370.50,467.56 L371.50,468.69 L372.50,469.84 L373.50,470.98 L374.50,472.13 L375.50,473.29 L376.50,474.45 L377.50,475.62 L378.50,476.79 L379.50,477.97 L380.50,479.15 L381.50,480.34 L382.50,481.54 L383.50,482.74 L384.50,483.94 L385.50,485.15 L386.50,486.36 L387.50,487.58 L388.50,488.80 L389.50,490.03 L390.50,491.27 L391.50,492.51 L392.50,493.75 L393.50,495.00 L394.50,496.25 L395.50,497.51 L396.50,498.77 L397.50,500.04 L398.50,501.31 L399.50,502.59 L400.50,503.87 L401.50,505.15 L402.50,506.43 L403.50,507.72 L404.50,509.00 L405.50,510.29 L406.50,511.57 L407.50,512.85 L408.50,514.13 L409.50,515.41 L410.50,516.68 L411.50,517.95 L412.50,519.23 L413.50,520.51 L414.50,521.80 L415.50,523.09 L416.50,524.39 L417.50,525.71 L418.50,527.03 L419.50,528.37 L420.50,529.72 L421.50,531.10 L422.50,532.49 L423.50,533.90 L424.50,535.33 L425.50,536.79 L426.50,538.28 L427.50,539.79 L428.50,541.34 L429.50,542.92 L430.50,544.53 L431.50,546.18 L432.50,547.87 L432.90,548.55" stroke="#0a0a0a" stroke-width="3.0" fill="none" stroke-linecap="butt" clip-path="url(#cE)"/>
<path d="M68.50,359.44 L69.50,359.53 L70.50,359.61 L71.50,359.70 L72.50,359.78 L73.50,359.86 L74.50,359.95 L75.50,360.03 L76.50,360.12 L77.50,360.20 L78.50,360.29 L79.50,360.37 L80.50,360.46 L81.50,360.54 L82.50,360.63 L83.50,360.71 L84.50,360.80 L85.50,360.89 L86.50,360.98 L87.50,361.07 L88.50,361.16 L89.50,361.25 L90.50,361.34 L91.50,361.43 L92.50,361.52 L93.50,361.62 L94.50,361.71 L95.50,361.81 L96.50,361.91 L97.50,362.01 L98.50,362.11 L99.50,362.21 L100.50,362.31 L101.50,362.41 L102.50,362.52 L103.50,362.62 L104.50,362.73 L105.50,362.84 L106.50,362.95 L107.50,363.06 L108.50,363.18 L109.50,363.29 L110.50,363.41 L111.50,363.53 L112.50,363.65 L113.50,363.77 L114.50,363.90 L115.50,364.02 L116.50,364.15 L117.50,364.28 L118.50,364.42 L119.50,364.55 L120.50,364.69 L121.50,364.83 L122.50,364.97 L123.50,365.12 L124.50,365.26 L125.50,365.41 L126.50,365.56 L127.50,365.72 L128.50,365.87 L129.50,366.03 L130.50,366.20 L131.50,366.36 L132.50,366.53 L133.50,366.70 L134.50,366.87 L135.50,367.05 L136.50,367.23 L137.50,367.41 L138.50,367.59 L139.50,367.78 L140.50,367.97 L141.50,368.17 L142.50,368.37 L143.50,368.57 L144.50,368.77 L145.50,368.98 L146.50,369.19 L147.50,369.41 L148.50,369.62 L149.50,369.85 L150.50,370.07 L151.50,370.30 L152.50,370.53 L153.50,370.77 L154.50,371.01 L155.50,371.26 L156.50,371.50 L157.50,371.76 L158.50,372.01 L159.50,372.27 L160.50,372.54 L161.50,372.80 L162.50,373.08 L163.50,373.35 L164.50,373.63 L165.50,373.92 L166.50,374.21 L167.50,374.50 L168.50,374.80 L169.50,375.10 L170.50,375.41 L171.50,375.72 L172.50,376.04 L173.50,376.36 L174.50,376.69 L175.50,377.02 L176.50,377.36 L177.50,377.70 L178.50,378.04 L179.50,378.39 L180.50,378.75 L181.50,379.11 L182.50,379.48 L183.50,379.85 L184.50,380.22 L185.50,380.60 L186.50,380.99 L187.50,381.38 L188.50,381.78 L189.50,382.18 L190.50,382.59 L191.50,383.00 L192.50,383.42 L193.50,383.85 L194.50,384.28 L195.50,384.72 L196.50,385.16 L197.50,385.61 L198.50,386.06 L199.50,386.52 L200.50,386.99 L201.50,387.46 L202.50,387.94 L203.50,388.42 L204.50,388.91 L205.50,389.41 L206.50,389.91 L207.50,390.42 L208.50,390.93 L209.50,391.45 L210.50,391.98 L211.50,392.52 L212.50,393.06 L213.50,393.60 L214.50,394.16 L215.50,394.72 L216.50,395.29 L217.50,395.86 L218.50,396.44 L219.50,397.03 L220.50,397.62 L221.50,398.22 L222.50,398.83 L223.50,399.45 L224.50,400.07 L225.50,400.70 L226.50,401.34 L227.50,401.98 L228.50,402.63 L229.50,403.29 L230.50,403.96 L231.50,404.63 L232.50,405.31 L233.50,406.00 L234.50,406.70 L235.50,407.41 L236.50,408.12 L237.50,408.85 L238.50,409.58 L239.50,410.32 L240.50,411.08 L241.50,411.84 L242.50,412.61 L243.50,413.40 L244.50,414.20 L245.50,415.00 L246.50,415.82 L247.50,416.65 L248.50,417.50 L249.50,418.35 L250.50,419.22 L251.50,420.10 L252.50,421.00 L253.50,421.91 L254.50,422.83 L255.50,423.77 L256.50,424.72 L257.50,425.68 L258.50,426.66 L259.50,427.66 L260.50,428.67 L261.50,429.70 L262.50,430.74 L263.50,431.80 L264.50,432.88 L265.50,433.97 L266.50,435.08 L267.50,436.21 L268.50,437.35 L269.50,438.52 L270.50,439.70 L271.50,440.90 L272.50,442.12 L273.50,443.36 L274.50,444.61 L275.50,445.89 L276.50,447.19 L277.50,448.51 L278.50,449.84 L279.50,451.20 L280.50,452.58 L281.50,453.98 L282.50,455.40 L283.50,456.85 L284.50,458.32 L285.50,459.80 L286.50,461.32 L287.50,462.85 L288.50,464.41 L289.50,465.99 L290.50,467.59 L291.50,469.22 L292.50,470.88 L293.50,472.55 L294.50,474.26 L295.50,475.98 L296.50,477.74 L297.50,479.52 L298.50,481.32 L299.50,483.15 L300.50,485.01 L301.50,486.90 L302.50,488.81 L303.50,490.75 L304.50,492.71 L305.50,494.71 L306.50,496.73 L307.50,498.78 L308.50,500.86 L309.50,502.97 L310.50,505.11 L311.50,507.28 L311.75,507.83" stroke="#0a0a0a" stroke-width="3.0" fill="none" stroke-linecap="butt" clip-path="url(#cF)"/>
<path d="M296.5,200.5L282.5,216.5 M385.25,242L351.25,281.9 M468,309L397.75,391.5 M437.2,464L423,480 M444.4,517.3L423.75,533.1 M260.4,449.2L269.1,440.4" stroke="#0a0a0a" stroke-width="1.6" fill="none"/>
<rect x="296.20" y="177.10" width="212.85" height="24.00" fill="#0a0a0a"/>
<text x="298.20" y="197.10" font-size="23" font-weight="bold" fill="#fff" stroke="#fff" stroke-width="0.6" textLength="206.30" lengthAdjust="spacingAndGlyphs">XKP2206; XKP2206T</text>
<rect x="384.40" y="218.40" width="212.85" height="24.00" fill="#0a0a0a"/>
<text x="386.60" y="238.10" font-size="23" font-weight="bold" fill="#fff" stroke="#fff" stroke-width="0.6" textLength="205.80" lengthAdjust="spacingAndGlyphs">XKP1606; XKP1606T</text>
<rect x="467.20" y="285.30" width="213.00" height="24.00" fill="#0a0a0a"/>
<text x="469.20" y="305.10" font-size="23" font-weight="bold" fill="#fff" stroke="#fff" stroke-width="0.6" textLength="206.10" lengthAdjust="spacingAndGlyphs">XKP1106; XKP1106T</text>
<rect x="436.70" y="440.70" width="96.30" height="23.80" fill="#0a0a0a"/>
<text x="438.80" y="460.40" font-size="23" font-weight="bold" fill="#fff" stroke="#fff" stroke-width="0.6" textLength="90.10" lengthAdjust="spacingAndGlyphs">XKP906T</text>
<rect x="444.00" y="494.10" width="96.50" height="23.40" fill="#0a0a0a"/>
<text x="446.00" y="513.40" font-size="23" font-weight="bold" fill="#fff" stroke="#fff" stroke-width="0.6" textLength="90.45" lengthAdjust="spacingAndGlyphs">XKP806T</text>
<rect x="163.95" y="448.70" width="96.65" height="24.00" fill="#0a0a0a"/>
<text x="166.00" y="468.20" font-size="23" font-weight="bold" fill="#fff" stroke="#fff" stroke-width="0.6" textLength="89.60" lengthAdjust="spacingAndGlyphs">XKP606T</text>
<text x="0" y="0" font-size="19" text-anchor="end" transform="translate(63.6,574.00) scale(0.885,1)" fill="#111" stroke="#111" stroke-width="0.25">0</text>
<text x="0" y="0" font-size="19" text-anchor="end" transform="translate(63.6,494.58) scale(0.885,1)" fill="#111" stroke="#111" stroke-width="0.25">4</text>
<text x="0" y="0" font-size="19" text-anchor="end" transform="translate(63.6,415.16) scale(0.885,1)" fill="#111" stroke="#111" stroke-width="0.25">8</text>
<text x="0" y="0" font-size="19" text-anchor="end" transform="translate(63.6,335.74) scale(0.885,1)" fill="#111" stroke="#111" stroke-width="0.25">12</text>
<text x="0" y="0" font-size="19" text-anchor="end" transform="translate(63.6,256.32) scale(0.885,1)" fill="#111" stroke="#111" stroke-width="0.25">16</text>
<text x="0" y="0" font-size="19" text-anchor="end" transform="translate(63.6,176.90) scale(0.885,1)" fill="#111" stroke="#111" stroke-width="0.25">20</text>
<text x="0" y="0" font-size="19" text-anchor="middle" transform="translate(68.50,585.1) scale(0.885,1)" fill="#111" stroke="#111" stroke-width="0.25">0</text>
<text x="0" y="0" font-size="19" text-anchor="middle" transform="translate(68.50,606.9) scale(0.885,1)" fill="#111" stroke="#111" stroke-width="0.25">0</text>
<text x="0" y="0" font-size="19" text-anchor="middle" transform="translate(129.20,585.1) scale(0.885,1)" fill="#111" stroke="#111" stroke-width="0.25">50</text>
<text x="0" y="0" font-size="19" text-anchor="middle" transform="translate(129.20,606.9) scale(0.885,1)" fill="#111" stroke="#111" stroke-width="0.25">3</text>
<text x="0" y="0" font-size="19" text-anchor="middle" transform="translate(189.90,585.1) scale(0.885,1)" fill="#111" stroke="#111" stroke-width="0.25">100</text>
<text x="0" y="0" font-size="19" text-anchor="middle" transform="translate(189.90,606.9) scale(0.885,1)" fill="#111" stroke="#111" stroke-width="0.25">6</text>
<text x="0" y="0" font-size="19" text-anchor="middle" transform="translate(250.60,585.1) scale(0.885,1)" fill="#111" stroke="#111" stroke-width="0.25">150</text>
<text x="0" y="0" font-size="19" text-anchor="middle" transform="translate(250.60,606.9) scale(0.885,1)" fill="#111" stroke="#111" stroke-width="0.25">9</text>
<text x="0" y="0" font-size="19" text-anchor="middle" transform="translate(311.30,585.1) scale(0.885,1)" fill="#111" stroke="#111" stroke-width="0.25">200</text>
<text x="0" y="0" font-size="19" text-anchor="middle" transform="translate(311.30,606.9) scale(0.885,1)" fill="#111" stroke="#111" stroke-width="0.25">12</text>
<text x="0" y="0" font-size="19" text-anchor="middle" transform="translate(372.00,585.1) scale(0.885,1)" fill="#111" stroke="#111" stroke-width="0.25">250</text>
<text x="0" y="0" font-size="19" text-anchor="middle" transform="translate(372.00,606.9) scale(0.885,1)" fill="#111" stroke="#111" stroke-width="0.25">15</text>
<text x="0" y="0" font-size="19" text-anchor="middle" transform="translate(432.70,585.1) scale(0.885,1)" fill="#111" stroke="#111" stroke-width="0.25">300</text>
<text x="0" y="0" font-size="19" text-anchor="middle" transform="translate(432.70,606.9) scale(0.885,1)" fill="#111" stroke="#111" stroke-width="0.25">18</text>
<text x="0" y="0" font-size="19" text-anchor="middle" transform="translate(493.40,585.1) scale(0.885,1)" fill="#111" stroke="#111" stroke-width="0.25">350</text>
<text x="0" y="0" font-size="19" text-anchor="middle" transform="translate(493.40,606.9) scale(0.885,1)" fill="#111" stroke="#111" stroke-width="0.25">21</text>
<text x="0" y="0" font-size="19" text-anchor="middle" transform="translate(554.10,585.1) scale(0.885,1)" fill="#111" stroke="#111" stroke-width="0.25">400</text>
<text x="0" y="0" font-size="19" text-anchor="middle" transform="translate(554.10,606.9) scale(0.885,1)" fill="#111" stroke="#111" stroke-width="0.25">24</text>
<text x="0" y="0" font-size="19" text-anchor="middle" transform="translate(614.80,585.1) scale(0.885,1)" fill="#111" stroke="#111" stroke-width="0.25">450</text>
<text x="0" y="0" font-size="19" text-anchor="middle" transform="translate(614.80,606.9) scale(0.885,1)" fill="#111" stroke="#111" stroke-width="0.25">27</text>
<text x="0" y="0" font-size="19" text-anchor="middle" transform="translate(675.50,585.1) scale(0.885,1)" fill="#111" stroke="#111" stroke-width="0.25">500</text>
<text x="0" y="0" font-size="19" text-anchor="middle" transform="translate(675.50,606.9) scale(0.885,1)" fill="#111" stroke="#111" stroke-width="0.25">30</text>
<text x="0" y="0" font-size="19" text-anchor="middle" transform="translate(736.20,585.1) scale(0.885,1)" fill="#111" stroke="#111" stroke-width="0.25">550</text>
<text x="0" y="0" font-size="19" text-anchor="middle" transform="translate(736.20,606.9) scale(0.885,1)" fill="#111" stroke="#111" stroke-width="0.25">33</text>
<text x="0" y="0" font-size="16.7" transform="translate(757.5,585) scale(0.8,1)" fill="#111">л/мин.</text>
<text x="0" y="0" font-size="16.7" transform="translate(757.5,606.6) scale(0.8,1)" fill="#111">м<tspan font-size="9" dy="-8.5">3</tspan><tspan dy="8.5">/ч.</tspan></text>
<text x="0" y="0" font-size="21.4" transform="translate(303,634.4) scale(0.857,1)" fill="#111">Производительность</text>
<polygon points="487.5,623.1 487.5,634.7 499.7,628.8" fill="#111"/>
<text x="0" y="0" font-size="20" transform="translate(37.4,475.5) rotate(-90) scale(1.04,1)" fill="#111">Высота подъёма (м)</text>
<polygon points="27,272 38,272 32.5,258" fill="#111"/>
</svg></body></html>
